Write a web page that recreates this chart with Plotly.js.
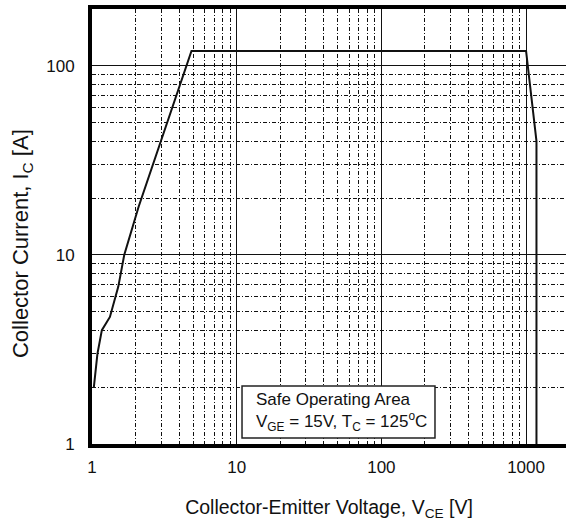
<!DOCTYPE html>
<html>
<head>
<meta charset="utf-8">
<script src="https://cdn.plot.ly/plotly-3.0.1.min.js"></script>
<style>html,body{margin:0;padding:0;background:#fff;overflow:hidden}#chart{width:566px;height:524px}</style>
</head>
<body>
<div id="chart"></div>
<script>
// Safe operating area boundary
const vce = [1.03, 1.09, 1.17, 1.33, 1.52, 1.67, 2.1, 4.87, 1000, 1180, 1180];
const ic  = [2.0, 3.0, 4.0, 4.7, 6.8, 10, 18, 120, 120, 40, 1];
const xTickVals = [1, 10, 100, 1000];
const xTickText = ['1', '10', '100', '1000'];
const yTickVals = [1, 10, 100];
const yTickText = ['1', '10', '100'];
const xTitle = 'Collector-Emitter Voltage, V<sub>CE</sub> [V]';
const yTitle = 'Collector Current, I<sub>C</sub> [A]';
const boxText = 'Safe Operating Area<br>V<sub>GE</sub> = 15V, T<sub>C</sub> = 125<sup>o</sup>C';

const font = {family: 'Liberation Sans, Arial, sans-serif', color: '#111'};
const f = s => Object.assign({size: s}, font);

const trace = {
  x: vce, y: ic, mode: 'lines', type: 'scatter',
  line: {color: '#111', width: 2}, hoverinfo: 'skip'
};

const gridDash = '4px,2px,1px,2px';

const layout = {
  width: 566, height: 524,
  margin: {l: 92, r: 0, t: 9, b: 80},
  paper_bgcolor: '#fff', plot_bgcolor: '#fff',
  showlegend: false,
  font: f(17),
  xaxis: {
    type: 'log', range: [0, 3.276],
    tickvals: xTickVals, ticktext: xTickText,
    ticks: 'outside', ticklen: 5, tickcolor: 'rgba(0,0,0,0)',
    showline: true, linecolor: '#000', linewidth: 4, mirror: true,
    showgrid: true, gridcolor: '#111', gridwidth: 1,
    minor: {dtick: 'D1', showgrid: true, gridcolor: '#111', gridwidth: 1, griddash: gridDash, ticks: ''},
    zeroline: false,
    tickfont: f(17),
    title: {text: xTitle, font: f(19.5), standoff: 25}
  },
  yaxis: {
    type: 'log', range: [0, 2.301],
    tickvals: yTickVals, ticktext: yTickText,
    ticks: 'outside', ticklen: 10, tickcolor: 'rgba(0,0,0,0)',
    showline: true, linecolor: '#000', linewidth: 4, mirror: false,
    showgrid: true, gridcolor: '#111', gridwidth: 1,
    minor: {dtick: 'D1', showgrid: true, gridcolor: '#111', gridwidth: 1, griddash: gridDash, ticks: ''},
    zeroline: false,
    tickfont: f(17)
  },
  shapes: [{
    type: 'rect', xref: 'paper', yref: 'paper',
    x0: 0.3165, x1: 0.7236, y0: 0.0138, y1: 0.1333,
    line: {color: '#222', width: 1.5}, fillcolor: '#fff', layer: 'above'
  }],
  annotations: [{
    xref: 'paper', yref: 'paper', x: 0.3418, y: 0.0736,
    xanchor: 'left', yanchor: 'middle', showarrow: false, align: 'left',
    text: boxText, font: f(17)
  }, {
    xref: 'paper', yref: 'paper', x: -0.1477, y: 0.462,
    xanchor: 'center', yanchor: 'middle', showarrow: false, textangle: -90,
    text: yTitle, font: f(22)
  }]
};

Plotly.newPlot('chart', [trace], layout, {staticPlot: true, displayModeBar: false});
</script>
</body>
</html>
